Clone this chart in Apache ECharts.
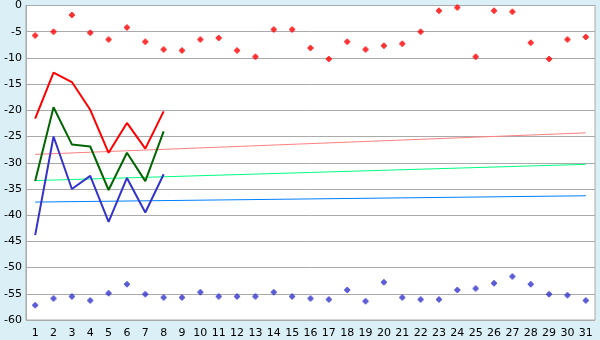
<!DOCTYPE html>
<html><head><meta charset="utf-8">
<script src="https://cdn.jsdelivr.net/npm/echarts@6/dist/echarts.min.js"></script>
<style>html,body{margin:0;padding:0;background:#daeff6}#c{width:600px;height:340px}</style>
</head><body><div id="c"></div>
<script>
const days = ['1','2','3','4','5','6','7','8','9','10','11','12','13','14','15','16','17','18','19','20','21','22','23','24','25','26','27','28','29','30','31'];
const redPoints = [-5.7,-5.0,-1.8,-5.2,-6.5,-4.2,-6.9,-8.4,-8.6,-6.5,-6.2,-8.6,-9.8,-4.6,-4.6,-8.1,-10.2,-6.9,-8.4,-7.7,-7.3,-5.0,-1.0,-0.4,-9.8,-1.0,-1.2,-7.1,-10.2,-6.5,-6.0];
const bluePoints = [-57.2,-55.9,-55.5,-56.3,-54.9,-53.2,-55.1,-55.7,-55.7,-54.7,-55.5,-55.5,-55.5,-54.7,-55.5,-55.9,-56.1,-54.3,-56.4,-52.8,-55.7,-56.1,-56.1,-54.3,-54.0,-53.0,-51.7,-53.2,-55.1,-55.3,-56.3];
const redLine = [-21.6,-12.8,-14.6,-19.9,-28.1,-22.4,-27.3,-20.2];
const greenLine = [-33.5,-19.4,-26.5,-26.9,-35.2,-28.1,-33.5,-24.0];
const blueLine = [-43.8,-25.0,-35.0,-32.5,-41.3,-32.9,-39.5,-32.2];
const trendPink = [['1',-28.4],['31',-24.3]];
const trendGreen = [['1',-33.4],['31',-30.3]];
const trendBlue = [['1',-37.5],['31',-36.3]];
const yTicks = {min:-60,max:0,interval:5};

const marker = 'path://M2,0H4V1H5V2H6V4H5V5H4V6H2V5H1V4H0V2H1V1H2Z';
const chart = echarts.init(document.getElementById('c'));
chart.setOption({
  animation:false,
  backgroundColor:'#daeff6',
  grid:{left:26,right:5,top:5,bottom:20,show:true,backgroundColor:'#ffffff',borderColor:'#aaaaaa',borderWidth:1},
  xAxis:{type:'category',data:days,boundaryGap:true,
    axisLine:{lineStyle:{color:'#aaaaaa',width:1}},
    axisTick:{alignWithLabel:true,length:5,lineStyle:{color:'#aaaaaa'}},
    axisLabel:{color:'#000',fontFamily:'DejaVu Sans',fontSize:11,margin:8,interval:0},
    splitLine:{show:false}},
  yAxis:{type:'value',min:yTicks.min,max:yTicks.max,interval:yTicks.interval,
    axisLine:{show:true,lineStyle:{color:'#aaaaaa',width:1}},
    axisTick:{show:false},
    axisLabel:{color:'#000',fontFamily:'DejaVu Sans',fontSize:11,margin:4,formatter:v=>String(v)},
    splitLine:{lineStyle:{color:'#aaaaaa',width:1}}},
  series:[
    {type:'line',data:trendPink,symbol:'none',lineStyle:{color:'#ff8080',width:1},z:2},
    {type:'line',data:trendGreen,symbol:'none',lineStyle:{color:'#00ff80',width:1},z:2},
    {type:'line',data:trendBlue,symbol:'none',lineStyle:{color:'#0080ff',width:1},z:2},
    {type:'line',data:redLine,symbol:'none',lineStyle:{color:'#ff0000',width:2},z:3},
    {type:'line',data:greenLine,symbol:'none',lineStyle:{color:'#006600',width:2},z:3},
    {type:'line',data:blueLine,symbol:'none',lineStyle:{color:'#3333cc',width:2},z:3},
    {type:'scatter',data:redPoints,symbol:marker,symbolSize:6,itemStyle:{color:'#ff0000'},z:4},
    {type:'scatter',data:bluePoints,symbol:marker,symbolSize:6,itemStyle:{color:'#3333cc'},z:4}
  ]
});
</script></body></html>
